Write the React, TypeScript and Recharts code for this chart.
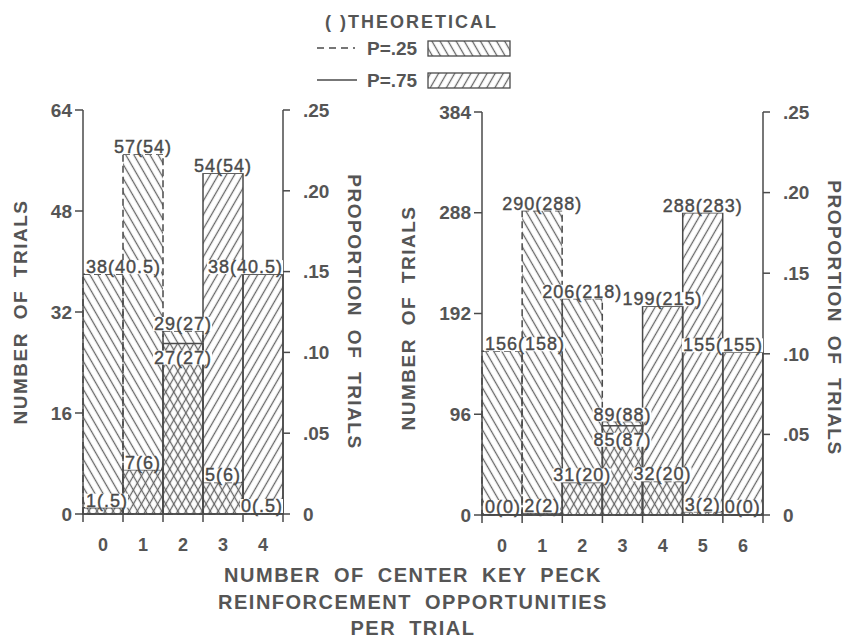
import { BarChart, Bar, XAxis, YAxis, LabelList } from 'recharts'

// left panel: 0-4 opportunities
const LEFT_BINS = ['0', '1', '2', '3', '4']
const LEFT_P25_OBS = [38, 57, 29, 5, 0]
const LEFT_P25_THEO = [40.5, 54, 27, 6, 0.5]
const LEFT_P75_OBS = [1, 7, 27, 54, 38]
const LEFT_P75_THEO = [0.5, 6, 27, 54, 40.5]
const LEFT_COUNT_TICKS = [0, 16, 32, 48, 64]

// right panel: 0-6 opportunities
const RIGHT_BINS = ['0', '1', '2', '3', '4', '5', '6']
const RIGHT_P25_OBS = [156, 290, 206, 89, 32, 3, 0]
const RIGHT_P25_THEO = [158, 288, 218, 88, 20, 2, 0]
const RIGHT_P75_OBS = [0, 2, 31, 85, 199, 288, 155]
const RIGHT_P75_THEO = [0, 2, 20, 87, 215, 283, 155]
const RIGHT_COUNT_TICKS = [0, 96, 192, 288, 384]

const PROPORTION_TICKS = [0, 0.05, 0.1, 0.15, 0.2, 0.25]

const INK = '#4a4a4a'
const TEXT = '#555'
const HATCH = '#666'
const AXIS_W = 40
const XAXIS_H = 30
const LABEL_SIZE = 18

const fmt = (n: number) => (n > 0 && n < 1 ? String(n).replace(/^0/, '') : String(n))

function textWidth(s: string) {
  let w = 0
  for (const c of s) {
    if (c === '(' || c === ')') w += 6
    else if (c === '.') w += 5
    else w += 10
    w += 1
  }
  return w
}

function makeLabel(bins: string[], obs: number[], theo: number[], other: number[], pxPerUnit: number, plotLeft: number, plotRight: number) {
  return (props: any) => {
    const vb = props.viewBox ?? props
    const { x, y, width } = vb
    const byBin = bins.indexOf(String(props.value))
    const i = byBin >= 0 ? byBin : props.index
    const text = `${obs[i]}(${fmt(theo[i])})`
    const w = textWidth(text)
    const diff = (other[i] - obs[i]) * pxPerUnit
    const inside = diff > 0 && diff < 18
    const base = inside ? y + 20 : y - 1
    let left = x + width / 2 - w / 2
    if (left < plotLeft + 3) left = plotLeft + 3
    if (left + w > plotRight) left = plotRight - w
    return (
      <g>
        <rect x={left - 1} y={base - 13} width={w + 1} height={14} fill="#fff" />
        <text x={left} y={base} fontSize={LABEL_SIZE} letterSpacing={1} fill={INK} stroke={INK} strokeWidth={0.4}>
          {text}
        </text>
      </g>
    )
  }
}

function XTick(props: any) {
  const { x, y, payload, index, bw, n } = props
  return (
    <g>
      <line x1={x - bw / 2} x2={x - bw / 2} y1={y} y2={y + 8} stroke={INK} strokeWidth={1.5} />
      {index === n - 1 && <line x1={x + bw / 2} x2={x + bw / 2} y1={y} y2={y + 8} stroke={INK} strokeWidth={1.5} />}
      <text x={x} y={y + 37} textAnchor="middle" fontSize={18} fontWeight="bold" fill={TEXT}>
        {payload.value}
      </text>
    </g>
  )
}

function Hatches({ id }: { id: string }) {
  return (
    <defs>
      <pattern id={`${id}-back`} width={7} height={7} patternUnits="userSpaceOnUse" patternTransform="rotate(-30)">
        <line x1={3.5} y1={0} x2={3.5} y2={7} stroke={HATCH} strokeWidth={1.3} />
      </pattern>
      <pattern id={`${id}-fwd`} width={7} height={7} patternUnits="userSpaceOnUse" patternTransform="rotate(30)">
        <line x1={3.5} y1={0} x2={3.5} y2={7} stroke={HATCH} strokeWidth={1.3} />
      </pattern>
    </defs>
  )
}

interface PanelProps {
  id: string
  bins: string[]
  p25Obs: number[]
  p25Theo: number[]
  p75Obs: number[]
  p75Theo: number[]
  countTicks: number[]
  left: number
  width: number
  plotLeft: number
  plotRight: number
  plotTop: number
  plotBottom: number
}

// zero counts still get a (flat) bar so that their label is drawn
const keepZero = (v: number) => (v === 0 ? 1 : 0)

function Panel(p: PanelProps) {
  const height = p.plotBottom + 50
  const data = p.bins.map((bin, i) => ({ bin, p25: p.p25Obs[i], p75: p.p75Obs[i] }))
  const yMax = p.countTicks[p.countTicks.length - 1]
  const pxPerUnit = (p.plotBottom - p.plotTop) / yMax
  const bw = (p.plotRight - p.plotLeft) / p.bins.length
  const tickStyle = { fontSize: 19, fontWeight: 'bold', fill: TEXT }

  return (
    <div style={{ position: 'absolute', left: p.left, top: 0 }}>
      <BarChart
        width={p.width}
        height={height}
        data={data}
        barCategoryGap={0}
        barGap={0}
        margin={{
          top: p.plotTop,
          left: p.plotLeft - AXIS_W,
          right: p.width - p.plotRight - AXIS_W,
          bottom: height - p.plotBottom - XAXIS_H,
        }}
      >
        <Hatches id={p.id} />
        <XAxis
          xAxisId="a"
          dataKey="bin"
          height={XAXIS_H}
          tickLine={false}
          tickSize={0}
          tickMargin={0}
          interval={0}
          stroke={INK}
          strokeWidth={1.5}
          tick={<XTick bw={bw} n={p.bins.length} />}
        />
        <XAxis xAxisId="b" dataKey="bin" hide height={0} />
        <XAxis xAxisId="c" dataKey="bin" hide height={0} />
        <YAxis
          yAxisId="n"
          width={AXIS_W}
          domain={[0, yMax]}
          ticks={p.countTicks}
          interval={0}
          tickSize={8}
          tickMargin={3}
          stroke={INK}
          strokeWidth={1.5}
          tick={tickStyle}
        />
        <YAxis
          yAxisId="p"
          orientation="right"
          width={AXIS_W}
          domain={[0, 0.25]}
          ticks={PROPORTION_TICKS}
          interval={0}
          allowDataOverflow
          tickSize={7}
          tickMargin={13}
          stroke={INK}
          strokeWidth={1.5}
          tick={tickStyle}
          tickFormatter={(v: number) => (v === 0 ? '0' : v.toFixed(2).slice(1))}
        />
        <Bar
          xAxisId="a"
          yAxisId="n"
          dataKey="p25"
          fill={`url(#${p.id}-back)`}
          stroke={INK}
          strokeWidth={1.5}
          strokeDasharray="7 4"
          minPointSize={keepZero}
          isAnimationActive={false}
        >
          <LabelList dataKey="bin" content={makeLabel(p.bins, p.p25Obs, p.p25Theo, p.p75Obs, pxPerUnit, p.plotLeft, p.plotRight)} />
        </Bar>
        <Bar
          xAxisId="b"
          yAxisId="n"
          dataKey="p75"
          fill={`url(#${p.id}-fwd)`}
          stroke={INK}
          strokeWidth={1.5}
          minPointSize={keepZero}
          isAnimationActive={false}
        >
          <LabelList dataKey="bin" content={makeLabel(p.bins, p.p75Obs, p.p75Theo, p.p25Obs, pxPerUnit, p.plotLeft, p.plotRight)} />
        </Bar>
        {/* carrier for the proportion axis, draws nothing */}
        <Bar xAxisId="c" yAxisId="p" dataKey="none" fill="none" isAnimationActive={false} />
      </BarChart>
    </div>
  )
}

const TITLE = { fontSize: 19, fontWeight: 'bold' as const, fill: TEXT, letterSpacing: 1.5, wordSpacing: 6 }

export default function App() {
  return (
    <div
      style={{
        position: 'absolute',
        left: 0,
        top: 0,
        width: 845,
        height: 641,
        background: '#fff',
        fontFamily: '"Liberation Sans", Arial, sans-serif',
      }}
    >
      <Panel
        id="left"
        bins={LEFT_BINS}
        p25Obs={LEFT_P25_OBS}
        p25Theo={LEFT_P25_THEO}
        p75Obs={LEFT_P75_OBS}
        p75Theo={LEFT_P75_THEO}
        countTicks={LEFT_COUNT_TICKS}
        left={0}
        width={420}
        plotLeft={83}
        plotRight={283}
        plotTop={110}
        plotBottom={514}
      />
      <Panel
        id="right"
        bins={RIGHT_BINS}
        p25Obs={RIGHT_P25_OBS}
        p25Theo={RIGHT_P25_THEO}
        p75Obs={RIGHT_P75_OBS}
        p75Theo={RIGHT_P75_THEO}
        countTicks={RIGHT_COUNT_TICKS}
        left={400}
        width={445}
        plotLeft={82}
        plotRight={363}
        plotTop={112}
        plotBottom={515}
      />
      <svg width={845} height={641} style={{ position: 'absolute', left: 0, top: 0, pointerEvents: 'none' }}>
        <Hatches id="legend" />
        {/* legend */}
        <text x={325} y={28} fontSize={18} fontWeight="bold" fill={TEXT} letterSpacing={2}>( )THEORETICAL</text>
        <line x1={317} x2={355} y1={48} y2={48} stroke={INK} strokeWidth={1.5} strokeDasharray="7 5" />
        <text x={367} y={54.5} fontSize={19} fontWeight="bold" fill={TEXT}>P=.25</text>
        <rect x={428} y={41} width={82} height={15} fill="url(#legend-back)" stroke={INK} strokeWidth={1.3} />
        <line x1={317} x2={357} y1={80} y2={80} stroke={INK} strokeWidth={1.5} />
        <text x={367} y={86.5} fontSize={19} fontWeight="bold" fill={TEXT}>P=.75</text>
        <rect x={428} y={73} width={82} height={15} fill="url(#legend-fwd)" stroke={INK} strokeWidth={1.3} />

        {/* axis titles */}
        <text transform="translate(27,312) rotate(-90)" textAnchor="middle" {...TITLE}>NUMBER OF TRIALS</text>
        <text transform="translate(348,312) rotate(90)" textAnchor="middle" {...TITLE}>PROPORTION OF TRIALS</text>
        <text transform="translate(415,318) rotate(-90)" textAnchor="middle" {...TITLE}>NUMBER OF TRIALS</text>
        <text transform="translate(828,318) rotate(90)" textAnchor="middle" {...TITLE}>PROPORTION OF TRIALS</text>

        <text x={413} y={582} textAnchor="middle" {...TITLE} fontSize={20}>NUMBER OF CENTER KEY PECK</text>
        <text x={413} y={609} textAnchor="middle" {...TITLE} fontSize={20}>REINFORCEMENT OPPORTUNITIES</text>
        <text x={413} y={635} textAnchor="middle" {...TITLE} fontSize={20}>PER TRIAL</text>
      </svg>
    </div>
  )
}
